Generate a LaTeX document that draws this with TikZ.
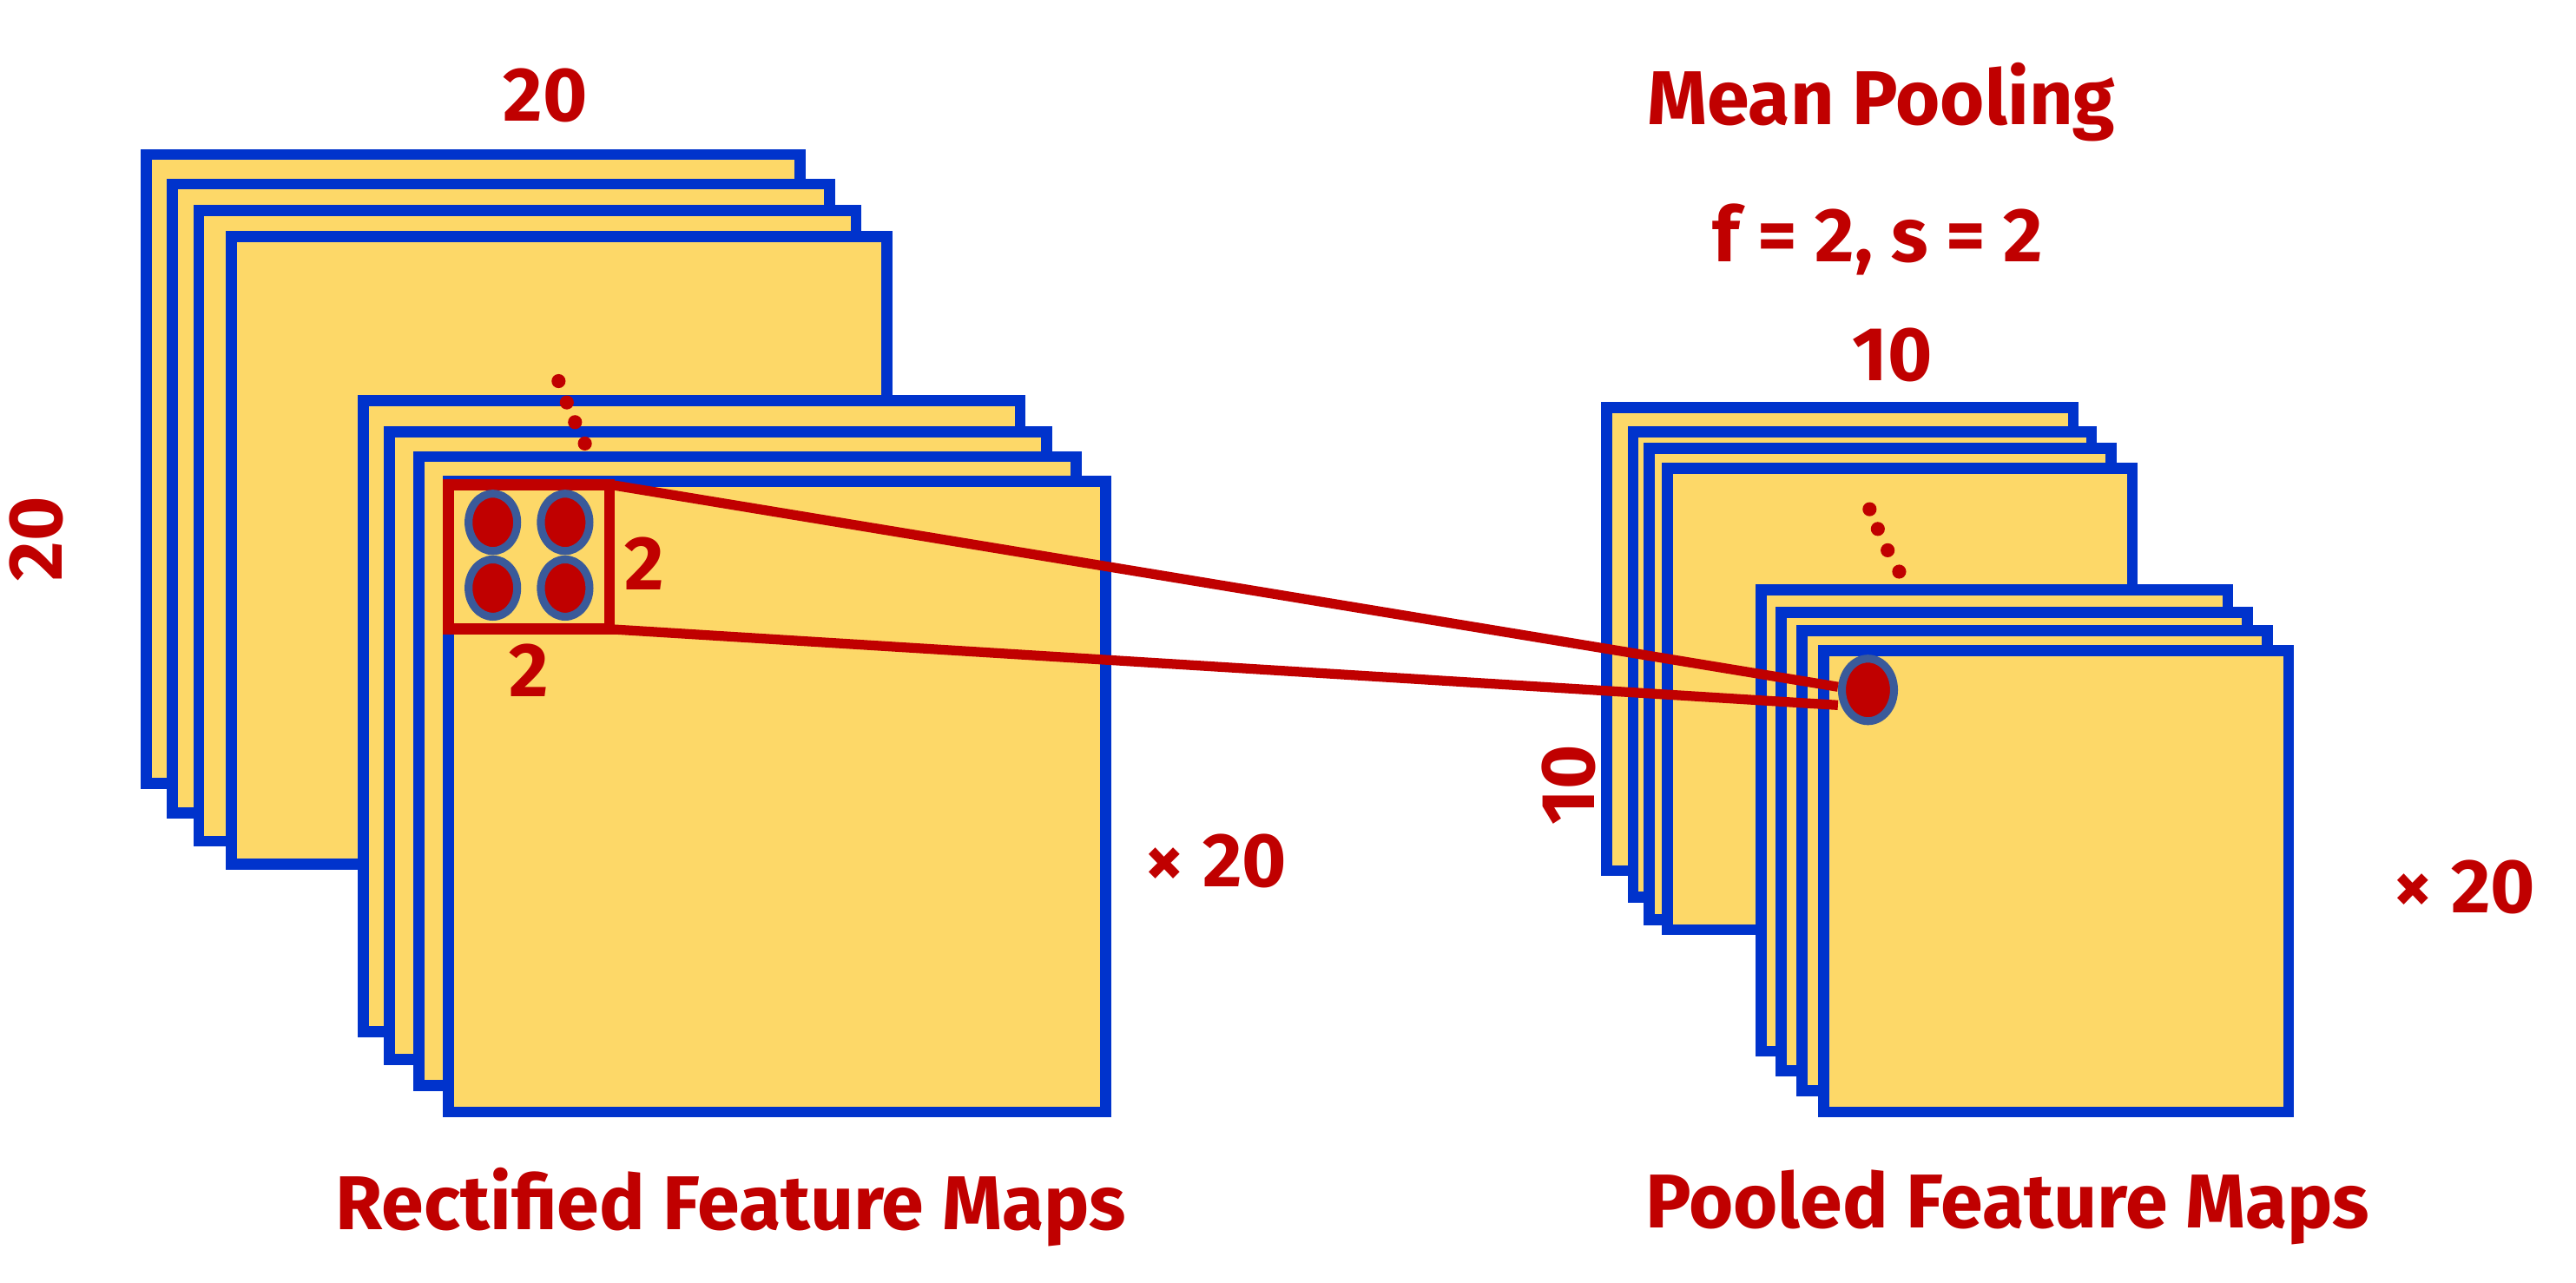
\documentclass[tikz,border=0pt]{standalone}
\usepackage{fontspec}
\setmainfont{Fira Sans}
\definecolor{mapfill}{HTML}{FDD868}
\definecolor{mapblue}{HTML}{0033CC}
\definecolor{darkred}{HTML}{C00000}
\definecolor{ringblue}{HTML}{3A5A9A}
\tikzset{
  fmap/.style={draw=mapblue,fill=mapfill,line width=3.6pt},
  lbl/.style={text=darkred,font=\bfseries\fontsize{25}{30}\selectfont},
  unit/.style={ellipse,fill=darkred,draw=ringblue,line width=2.6pt,minimum width=0.56cm,minimum height=0.66cm,inner sep=0pt},
  link/.style={draw=darkred,line width=3.2pt}
}
\usetikzlibrary{shapes.geometric}
\begin{document}
\begin{tikzpicture}[x=0.01892cm,y=-0.01892cm]
  \useasboundingbox (0,0) rectangle (1568,781);

  % Rectified feature maps
  \foreach \xa/\ya/\xb/\yb in {89/94/487/477,105/112/505/495,121/128/521/512,141/144/540/526,
                               221/244/621/628,237/263/637/645,255/278/655/661,273/293/673/677}
    \draw[fmap] (\xa,\ya) rectangle (\xb,\yb);
  \foreach \px/\py in {340/232,345/245,350/257,356/270}
    \fill[darkred] (\px,\py) circle (2.3pt);

  % pooling window
  \draw[darkred,line width=3.6pt] (273,295) rectangle (371,383);
  \coordinate (winTR) at (371,295);
  \coordinate (winBR) at (371,383);
  \foreach \px/\py in {300/318,344/318,300/358,344/358}
    \node[unit] at (\px,\py) {};

  % Pooled feature maps
  \foreach \xa/\ya/\xb/\yb in {978/248/1262/530,994/263/1273/546,1004/273/1285/560,1015/285/1298/566,
                               1072/359/1356/640,1084/373/1368/652,1097/384/1380/664,1110/396/1393/677}
    \draw[fmap] (\xa,\ya) rectangle (\xb,\yb);
  \foreach \px/\py in {1138/310,1143/322,1149/335,1156/348}
    \fill[darkred] (\px,\py) circle (2.3pt);

  \node[unit,minimum width=0.6cm,minimum height=0.72cm] (pooled) at (1137,420) {};
  \draw[link] (winTR) -- ([yshift=1pt]pooled.west);
  \draw[link] (winBR) -- ([yshift=-5pt]pooled.west);

  % labels
  \node[lbl] (wtop) at (332,58) {20};
  \node[lbl,rotate=90] (hleft) at (22,328) {20};
  \node[lbl] (wh) at (392,343) {2};
  \node[lbl] (ww) at (322,408) {2};
  \node[lbl] (nleft) at (740,524) {× 20};
  \node[lbl] (title) at (1145,62) {Mean Pooling};
  \node[lbl] (params) at (1143,146) {f = 2, s = 2};
  \node[lbl] (wright) at (1152,216) {10};
  \node[lbl,rotate=90] (hright) at (955,478) {10};
  \node[lbl] (nright) at (1500,540) {× 20};
  \node[lbl] (capleft) at (445,735) {Rectified Feature Maps};
  \node[lbl] (capright) at (1222,735) {Pooled Feature Maps};
\end{tikzpicture}
\end{document}
